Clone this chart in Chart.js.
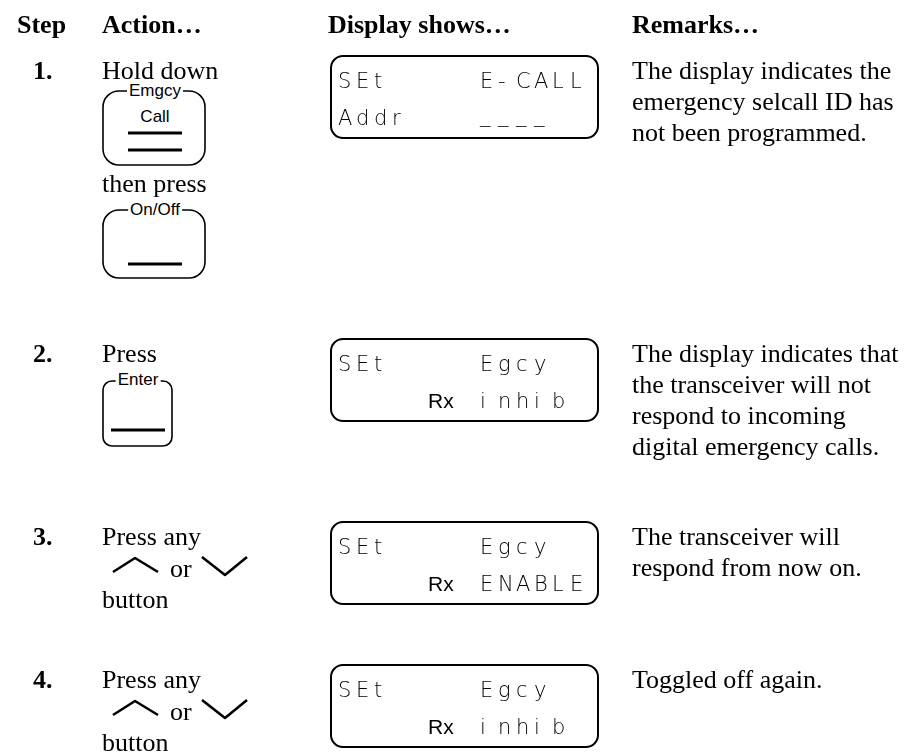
<!DOCTYPE html>
<html>
<head>
<meta charset="utf-8">
<script src="https://cdn.jsdelivr.net/npm/chart.js@4.4.1/dist/chart.umd.min.js"></script>
<style>
  html, body { margin: 0; padding: 0; background: #fff; }
  #page { position: relative; width: 910px; height: 752px; overflow: hidden; }
  #c { position: absolute; left: 0; top: 0; }
  .t { position: absolute; white-space: nowrap; color: #000; }
  .serif { font: 26px "Liberation Serif", "Times New Roman", serif; line-height: 31px; }
  .bold { font: bold 26px "Liberation Serif", "Times New Roman", serif; line-height: 31px; }
  .label { font: 17px "Liberation Sans", Arial, sans-serif; line-height: 20px; background: #fff; padding: 0 2px; transform: translateX(-50%); }
  .lcd { font: 200 21px "DejaVu Sans", sans-serif; line-height: 24px; }
  .lcd span { display: inline-block; width: 18px; }
  .rx { font: 21px "Liberation Sans", Arial, sans-serif; line-height: 24px; }
</style>
</head>
<body>
<div id="page">
  <canvas id="c" width="910" height="752"></canvas>
</div>
<script>
// table content
const headers = ['Step', 'Action…', 'Display shows…', 'Remarks…'];
const steps = ['1.', '2.', '3.', '4.'];
const actionText = ['Hold down', 'Press', 'Press any', 'Press any'];
const displayTopLeft = ['SEt', 'SEt', 'SEt', 'SEt'];
const displayTopRight = ['E-CALL', 'Egcy', 'Egcy', 'Egcy'];
const displayBottomLeft = ['Addr', '', '', ''];
const displayBottomMid = ['', 'Rx', 'Rx', 'Rx'];
const displayBottomRight = ['____', 'inhib', 'ENABLE', 'inhib'];
const remarks = [
    ['The display indicates the', 'emergency selcall ID has', 'not been programmed.'],
    ['The display indicates that', 'the transceiver will not', 'respond to incoming', 'digital emergency calls.'],
    ['The transceiver will', 'respond from now on.'],
    ['Toggled off again.']
];

// layout (pixels)
const col = { step: 17, stepNum: 33, action: 102, display: 331, remarks: 632 };
const headerBase = 33;
const rowBase = [79, 362, 545, 688];
const lineH = 31;
const lcd = { w: 267, h: 82, r: 12 };
const baseOff = { serif: 24, bold: 24, label: 16, lcd: 19, rx: 19 };

const page = document.getElementById('page');
function put(text, x, base, cls) {
    if (!text) return;
    const d = document.createElement('div');
    d.className = 't ' + cls;
    if (cls === 'lcd') {
        // fixed character cells, like the segment display
        for (const ch of text) {
            const s = document.createElement('span');
            s.textContent = ch;
            d.appendChild(s);
        }
    } else {
        d.textContent = text;
    }
    d.style.left = x + 'px';
    d.style.top = (base - baseOff[cls]) + 'px';
    page.appendChild(d);
}

function frame(ctx, x0, y0, x1, y1, r) {
    ctx.beginPath();
    ctx.moveTo(x0 + r, y0);
    ctx.lineTo(x1 - r, y0);
    ctx.arcTo(x1, y0, x1, y0 + r, r);
    ctx.lineTo(x1, y1 - r);
    ctx.arcTo(x1, y1, x1 - r, y1, r);
    ctx.lineTo(x0 + r, y1);
    ctx.arcTo(x0, y1, x0, y1 - r, r);
    ctx.lineTo(x0, y0 + r);
    ctx.arcTo(x0, y0, x0 + r, y0, r);
    ctx.closePath();
    ctx.stroke();
}

function bar(ctx, x0, x1, y) {
    ctx.fillRect(x0, y - 1.5, x1 - x0, 3);
}

function chevron(ctx, pts) {
    ctx.beginPath();
    ctx.moveTo(pts[0][0], pts[0][1]);
    for (let i = 1; i < pts.length; i++) ctx.lineTo(pts[i][0], pts[i][1]);
    ctx.stroke();
}

const sheetPlugin = {
    id: 'sheet',
    afterDraw(chart) {
        const ctx = chart.ctx;
        const sx = v => chart.scales.x.getPixelForValue(v);
        const sy = v => chart.scales.y.getPixelForValue(v);
        ctx.save();
        ctx.strokeStyle = '#000';
        ctx.fillStyle = '#000';
        ctx.lineJoin = 'round';

        // lcd frames
        ctx.lineWidth = 2;
        rowBase.forEach(b => {
            frame(ctx, sx(col.display), sy(b - 23), sx(col.display + lcd.w), sy(b - 23 + lcd.h), lcd.r);
        });

        // step 1 keys
        ctx.lineWidth = 1.6;
        frame(ctx, sx(103), sy(91), sx(205), sy(165), 16);
        bar(ctx, sx(128), sx(182), sy(133));
        bar(ctx, sx(128), sx(182), sy(150));
        frame(ctx, sx(103), sy(210), sx(205), sy(278), 16);
        bar(ctx, sx(128), sx(182), sy(264));

        // step 2 key
        frame(ctx, sx(103), sy(381), sx(172), sy(446), 9);
        bar(ctx, sx(111), sx(165), sy(430));

        // steps 3, 4 arrows
        ctx.lineWidth = 2.6;
        [rowBase[2], rowBase[3]].forEach(b => {
            chevron(ctx, [[sx(113), sy(b + 27)], [sx(135), sy(b + 13)], [sx(158), sy(b + 27)]]);
            chevron(ctx, [[sx(202), sy(b + 12)], [sx(225), sy(b + 30)], [sx(247), sy(b + 12)]]);
        });
        ctx.restore();
    }
};

new Chart(document.getElementById('c'), {
    type: 'scatter',
    data: { datasets: [] },
    options: {
        responsive: false,
        animation: false,
        events: [],
        layout: { padding: 0 },
        scales: {
            x: { type: 'linear', min: 0, max: 910, display: false },
            y: { type: 'linear', min: 0, max: 752, reverse: true, display: false }
        },
        plugins: { legend: { display: false }, tooltip: { enabled: false } }
    },
    plugins: [sheetPlugin]
});

// headers
put(headers[0], col.step, headerBase, 'bold');
put(headers[1], col.action, headerBase, 'bold');
put(headers[2], col.display - 3, headerBase, 'bold');
put(headers[3], col.remarks, headerBase, 'bold');

steps.forEach((s, i) => {
    const b = rowBase[i];
    put(s, col.stepNum, b, 'bold');
    put(actionText[i], col.action, b, 'serif');
    // display
    put(displayTopLeft[i], col.display + 7, b + 9, 'lcd');
    put(displayTopRight[i], col.display + 149, b + 9, 'lcd');
    put(displayBottomLeft[i], col.display + 7, b + 46, 'lcd');
    put(displayBottomMid[i], col.display + 97, b + 46, 'rx');
    put(displayBottomRight[i], col.display + 149, b + (displayBottomRight[i] === '____' ? 43 : 46), 'lcd');
    remarks[i].forEach((line, k) => put(line, col.remarks, b + k * lineH, 'serif'));
});

// key labels and extra action lines
put('Emgcy', 155, 97, 'label');
put('Call', 155, 123, 'label');
put('then press', col.action, 192, 'serif');
put('On/Off', 155, 216, 'label');
put('Enter', 138, 386, 'label');
[rowBase[2], rowBase[3]].forEach(b => {
    put('or', 170, b + 32, 'serif');
    put('button', col.action, b + 63, 'serif');
});
</script>
</body>
</html>
